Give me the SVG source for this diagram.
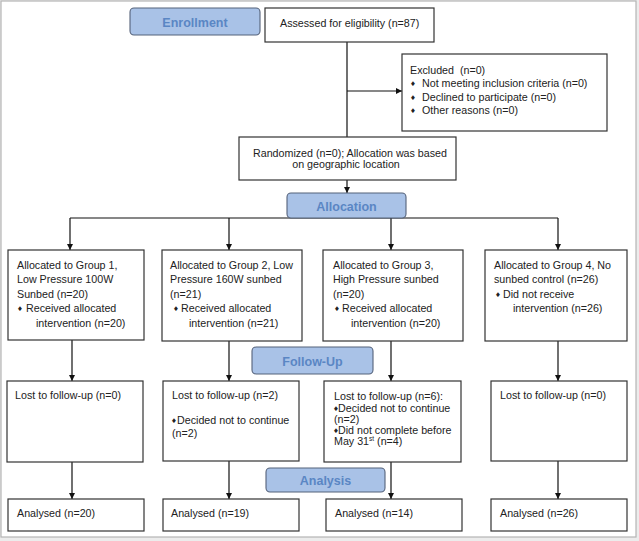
<svg xmlns="http://www.w3.org/2000/svg" width="639" height="541" viewBox="0 0 639 541">
<style>
.box{fill:#fff;stroke:#333;stroke-width:1.2}
.stage{fill:#a9c2e7;stroke:#55627a;stroke-width:1.1}
.st{font-family:"Liberation Sans",Arial,sans-serif;font-weight:bold;font-size:12.5px;fill:#5a86c4;text-anchor:middle}
.t{font-family:"Liberation Sans",Arial,sans-serif;font-size:10.7px;fill:#222}
.b{font-family:"DejaVu Sans",sans-serif;font-size:6.5px;fill:#222}
.c{text-anchor:middle}
.ln{fill:none;stroke:#111;stroke-width:1.2}
</style>
<defs>
<marker id="ah" markerWidth="6" markerHeight="6" refX="6" refY="3" orient="auto" markerUnits="userSpaceOnUse">
<path d="M0,0 L6,3 L0,6 z" fill="#111"/>
</marker>
</defs>
<rect x="0" y="0" width="639" height="541" fill="#ececec"/>
<rect x="1" y="1" width="635" height="536" fill="#fff" stroke="#b4b4b4" stroke-width="1.2"/>

<g id="connectors">
<path class="ln" d="M347,42 V137"/>
<path class="ln" d="M347,91 H402" marker-end="url(#ah)"/>
<path class="ln" d="M347,180 V193" marker-end="url(#ah)"/>
<path class="ln" d="M70,218 H558"/>
<path class="ln" d="M70,218 V250" marker-end="url(#ah)"/>
<path class="ln" d="M229,218 V250" marker-end="url(#ah)"/>
<path class="ln" d="M391,218 V250" marker-end="url(#ah)"/>
<path class="ln" d="M558,218 V250" marker-end="url(#ah)"/>
<path class="ln" d="M72,340 V381" marker-end="url(#ah)"/>
<path class="ln" d="M229,341 V381" marker-end="url(#ah)"/>
<path class="ln" d="M391,341 V381" marker-end="url(#ah)"/>
<path class="ln" d="M558,341 V381" marker-end="url(#ah)"/>
<path class="ln" d="M72,462 V499" marker-end="url(#ah)"/>
<path class="ln" d="M229,461 V499" marker-end="url(#ah)"/>
<path class="ln" d="M391,462 V499" marker-end="url(#ah)"/>
<path class="ln" d="M558,461 V499" marker-end="url(#ah)"/>
</g>

<g id="enrollment">
<rect class="stage" x="130" y="8" width="130" height="27" rx="4"/>
<text class="st" x="195" y="26.5">Enrollment</text>
</g>

<g id="assessed">
<rect class="box" x="265" y="8" width="169" height="34"/>
<text class="t" x="280" y="27">Assessed for eligibility (n=87)</text>
</g>

<g id="excluded">
<rect class="box" x="402" y="54" width="205" height="77"/>
<text class="t" x="410" y="74" xml:space="preserve">Excluded  (n=0)</text>
<text class="b" x="410" y="86">♦</text><text class="t" x="422" y="87">Not meeting inclusion criteria (n=0)</text>
<text class="b" x="410" y="100">♦</text><text class="t" x="422" y="101">Declined to participate (n=0)</text>
<text class="b" x="410" y="113">♦</text><text class="t" x="422" y="114">Other reasons (n=0)</text>
</g>

<g id="randomized">
<rect class="box" x="239" y="137" width="217" height="43"/>
<text class="t c" x="350" y="157">Randomized (n=0); Allocation was based</text>
<text class="t c" x="346" y="168">on geographic location</text>
</g>

<g id="allocation">
<rect class="stage" x="287" y="193" width="119" height="25" rx="4"/>
<text class="st" x="346.5" y="211">Allocation</text>
</g>

<g id="group1">
<rect class="box" x="8" y="250" width="136" height="90"/>
<text class="t" x="17" y="268.5">Allocated to Group 1,</text>
<text class="t" x="17" y="283">Low Pressure 100W</text>
<text class="t" x="17" y="297.5">Sunbed (n=20)</text>
<text class="b" x="17" y="311">♦</text><text class="t" x="26" y="312">Received allocated</text>
<text class="t" x="36" y="326.5">intervention (n=20)</text>
</g>

<g id="group2">
<rect class="box" x="162" y="250" width="140" height="91"/>
<text class="t" x="170" y="268.5">Allocated to Group 2, Low</text>
<text class="t" x="170" y="283">Pressure 160W sunbed</text>
<text class="t" x="170" y="297.5">(n=21)</text>
<text class="b" x="173" y="311">♦</text><text class="t" x="181" y="312">Received allocated</text>
<text class="t" x="189" y="326.5">intervention (n=21)</text>
</g>

<g id="group3">
<rect class="box" x="323" y="250" width="140" height="91"/>
<text class="t" x="333" y="268.5">Allocated to Group 3,</text>
<text class="t" x="333" y="283">High Pressure sunbed</text>
<text class="t" x="333" y="297.5">(n=20)</text>
<text class="b" x="334" y="311">♦</text><text class="t" x="342" y="312">Received allocated</text>
<text class="t" x="351" y="326.5">intervention (n=20)</text>
</g>

<g id="group4">
<rect class="box" x="485" y="250" width="142" height="91"/>
<text class="t" x="494" y="268.5">Allocated to Group 4, No</text>
<text class="t" x="494" y="283">sunbed control (n=26)</text>
<text class="b" x="495" y="296.5">♦</text><text class="t" x="503" y="297.5">Did not receive</text>
<text class="t" x="513" y="312">intervention (n=26)</text>
</g>

<g id="followup">
<rect class="stage" x="252" y="347" width="121" height="27" rx="4"/>
<text class="st" x="312.5" y="365.5">Follow-Up</text>
</g>

<g id="lost1">
<rect class="box" x="7" y="381" width="136" height="81"/>
<text class="t" x="15" y="399">Lost to follow-up (n=0)</text>
</g>

<g id="lost2">
<rect class="box" x="163" y="381" width="136" height="80"/>
<text class="t" x="172" y="399">Lost to follow-up (n=2)</text>
<text class="b" x="171" y="423">♦</text><text class="t" x="177" y="424">Decided not to continue</text>
<text class="t" x="172" y="437">(n=2)</text>
</g>

<g id="lost3">
<rect class="box" x="324" y="381" width="137" height="81"/>
<text class="t" x="334" y="400">Lost to follow-up (n=6):</text>
<text class="b" x="333" y="411">♦</text><text class="t" x="338" y="412">Decided not to continue</text>
<text class="t" x="334" y="423">(n=2)</text>
<text class="b" x="333" y="433">♦</text><text class="t" x="338" y="434">Did not complete before</text>
<text class="t" x="334" y="445">May 31<tspan font-size="6.5px" dy="-4">st</tspan><tspan dy="4"> (n=4)</tspan></text>
</g>

<g id="lost4">
<rect class="box" x="491" y="381" width="136" height="80"/>
<text class="t" x="500" y="399">Lost to follow-up (n=0)</text>
</g>

<g id="analysis">
<rect class="stage" x="266" y="468" width="119" height="24" rx="4"/>
<text class="st" x="325.5" y="485">Analysis</text>
</g>

<g id="analysed1">
<rect class="box" x="8" y="499" width="136" height="32"/>
<text class="t" x="17" y="517">Analysed (n=20)</text>
</g>
<g id="analysed2">
<rect class="box" x="163" y="499" width="136" height="32"/>
<text class="t" x="171" y="517">Analysed (n=19)</text>
</g>
<g id="analysed3">
<rect class="box" x="326" y="499" width="136" height="32"/>
<text class="t" x="335" y="517">Analysed (n=14)</text>
</g>
<g id="analysed4">
<rect class="box" x="491" y="499" width="136" height="32"/>
<text class="t" x="500" y="517">Analysed (n=26)</text>
</g>
</svg>
